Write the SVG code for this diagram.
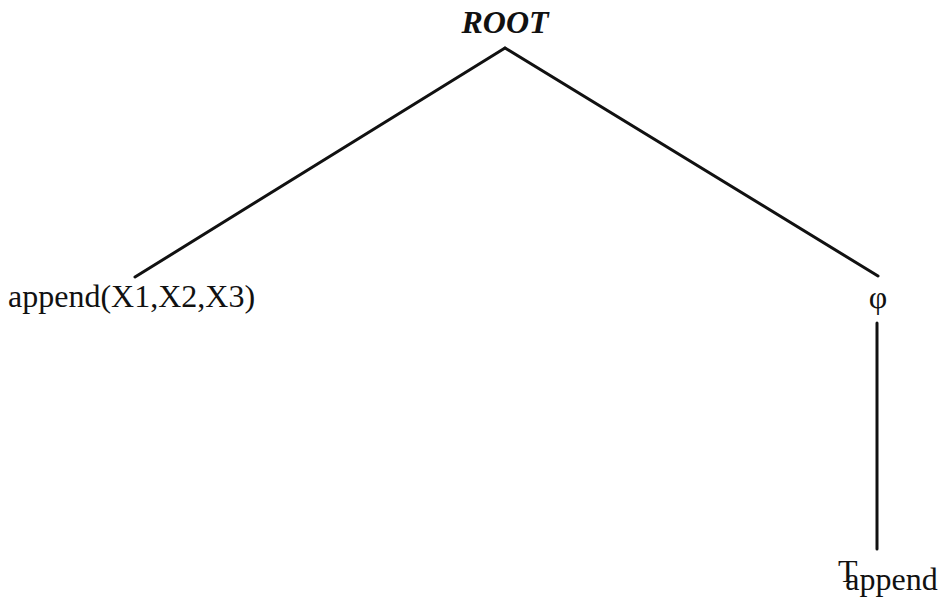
<svg xmlns="http://www.w3.org/2000/svg" width="948" height="602" viewBox="0 0 948 602">
<style>
.t{font-family:"Liberation Serif","Times New Roman",serif;font-size:32px;fill:#111}
.e{stroke:#111;stroke-width:3;fill:none;stroke-linecap:round}
</style>
<rect width="948" height="602" fill="#fff"/>
<g id="connectors">
<line class="e" x1="505" y1="48" x2="135" y2="277"/>
<line class="e" x1="505" y1="48" x2="878" y2="276"/>
<line class="e" x1="877" y1="323" x2="877" y2="549"/>
</g>
<g id="root"><text class="t" x="505" y="33" text-anchor="middle" font-weight="bold" font-style="italic">ROOT</text></g>
<g id="append"><text class="t" x="8" y="307">append(X1,X2,X3)</text></g>
<g id="phi"><text class="t" x="878" y="308" text-anchor="middle">φ</text></g>
<g id="tappend"><text class="t" x="838" y="582">T<tspan dx="-10" dy="8">append</tspan></text></g>
</svg>
